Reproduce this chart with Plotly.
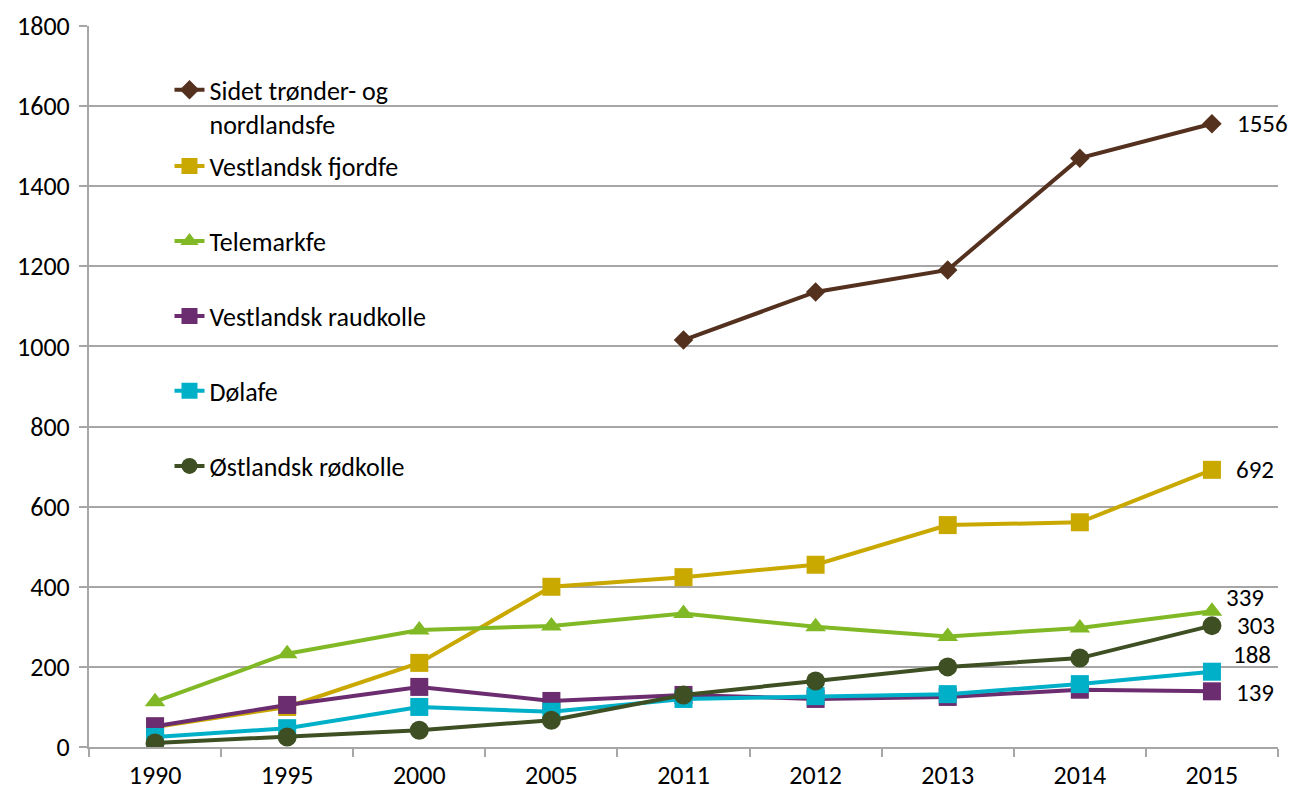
import plotly.graph_objects as go

years = ["1990", "1995", "2000", "2005", "2011", "2012", "2013", "2014", "2015"]

sidet = [None, None, None, None, 1016, 1136, 1191, 1470, 1556]
fjordfe = [50, 100, 210, 400, 424, 455, 554, 561, 692]
telemark = [113, 233, 292, 302, 333, 300, 276, 297, 339]
raudkolle = [52, 105, 150, 115, 130, 120, 125, 143, 139]
dolafe = [25, 47, 100, 88, 120, 127, 132, 157, 188]
rodkolle = [10, 25, 42, 67, 130, 165, 200, 222, 303]

series_names = ["Sidet trønder- og<br>nordlandsfe", "Vestlandsk fjordfe", "Telemarkfe",
                "Vestlandsk raudkolle", "Dølafe", "Østlandsk rødkolle"]
series_values = [sidet, fjordfe, telemark, raudkolle, dolafe, rodkolle]
colors = ["#54301F", "#C9A800", "#80B925", "#6B2D6F", "#00B0C8", "#3E4F23"]
symbols = ["diamond", "square", "triangle-up", "square", "square", "circle"]
marker_sizes = [15, 18, 18, 18, 18, 19]

# each series gets its own legend box so the entries sit evenly spaced
legend_y = [0.8877, 0.8058, 0.7018, 0.5978, 0.4938, 0.3897]
# label offsets (px) for the end-of-line values
label_dx = [24, 23, 13, 23, 20, 24]
label_dy = [0, 0, 14, -1, 17, 0]

FONT = "Carlito, Calibri, Lato, sans-serif"
FS = 26

fig = go.Figure()
layout_legends = {}
for i, name in enumerate(series_names):
    lg = "legend" if i == 0 else f"legend{i + 1}"
    fig.add_trace(go.Scatter(
        x=years, y=series_values[i], name=name, mode="lines+markers",
        line=dict(color=colors[i], width=4),
        marker=dict(symbol=symbols[i], size=marker_sizes[i], color=colors[i]),
        legend=lg, connectgaps=False,
    ))
    layout_legends[lg] = dict(
        x=0.0677, y=legend_y[i], xanchor="left", yanchor="middle",
        bgcolor="rgba(0,0,0,0)", valign="top",
        font=dict(family=FONT, size=FS, color="#000000"),
    )

# value labels at the last year
last = len(years) - 1
for i, vals in enumerate(series_values):
    fig.add_annotation(
        x=last, y=vals[last], text=str(vals[last]),
        showarrow=False, xanchor="left", yanchor="middle",
        xshift=label_dx[i], yshift=label_dy[i], borderpad=0,
        font=dict(family=FONT, size=FS - 1, color="#000000"),
    )

fig.update_layout(
    width=1292, height=793,
    margin=dict(l=89, r=14, t=26, b=46),
    paper_bgcolor="white", plot_bgcolor="white",
    font=dict(family=FONT, size=FS, color="#000000"),
    showlegend=True,
    **layout_legends,
    xaxis=dict(
        type="category", categoryorder="array", categoryarray=years,
        showgrid=False, showline=True, linecolor="#A6A6A6", linewidth=2,
        ticks="outside", tickson="boundaries", ticklen=8, tickcolor="#A6A6A6",
        tickwidth=2, tickfont=dict(family=FONT, size=FS), ticklabelstandoff=4,
        range=[-0.5, 8.5], fixedrange=True, automargin=False,
    ),
    yaxis=dict(
        range=[0, 1800], dtick=200, showgrid=True, gridcolor="#A6A6A6", gridwidth=2,
        showline=True, linecolor="#A6A6A6", linewidth=2, zeroline=False,
        ticks="outside", ticklen=8, tickcolor="#A6A6A6", tickwidth=2,
        tickfont=dict(family=FONT, size=FS), ticklabelstandoff=4, automargin=False,
    ),
)

fig.write_html("out.html")
